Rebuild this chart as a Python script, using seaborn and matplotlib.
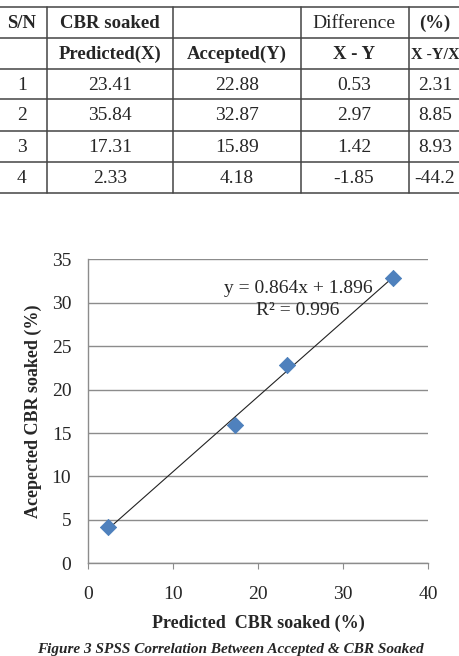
import numpy as np
import pandas as pd
import matplotlib
matplotlib.use("Agg")
import matplotlib.pyplot as plt
import seaborn as sns

# table / chart data
sn = ["1", "2", "3", "4"]
predicted = [23.41, 35.84, 17.31, 2.33]
accepted = [22.88, 32.87, 15.89, 4.18]
difference = ["0.53", "2.97", "1.42", "-1.85"]
percent = ["2.31", "8.85", "8.93", "-44.2"]
header1 = ["S/N", "CBR soaked", "", "Difference", "(%)"]
header2 = ["", "Predicted(X)", "Accepted(Y)", "X - Y", "X -Y/X"]
eq_text = "y = 0.864x + 1.896"
r2_text = "R\u00b2 = 0.996"
caption = "Figure 3 SPSS Correlation Between Accepted & CBR Soaked"

sns.set_style("white")
plt.rcParams['font.family'] = ['Liberation Serif', 'DejaVu Serif']

W, H = 460, 656
fig = plt.figure(figsize=(W/100, H/100), dpi=100)

# ---- table drawn in pixel coords ----
tab = fig.add_axes([0, 1 - 200/H, 1, 200/H])
tab.set_xlim(0, W)
tab.set_ylim(200, 0)
tab.axis("off")
row_lines = [7.3, 38.3, 69, 99.3, 130.7, 161.7, 192.7]
col_lines = [46.7, 173.3, 300.7, 409.3]
col_centers = [22, 110, 237, 354, 435]
for y in row_lines:
    tab.plot([0, W], [y, y], color="#444444", lw=1.1, clip_on=False)
for x in col_lines:
    tab.plot([x, x], [row_lines[0], row_lines[-1]], color="#444444", lw=1.1)

bold1 = [True, True, False, False, True]
rows = [header1, header2] + [[sn[i], f"{predicted[i]:.2f}", f"{accepted[i]:.2f}",
                             difference[i], percent[i]] for i in range(4)]
for r, row in enumerate(rows):
    yc = (row_lines[r] + row_lines[r+1]) / 2
    for c, txt in enumerate(row):
        if r == 0:
            fw = "bold" if bold1[c] else "normal"
            fs = 13.5 if bold1[c] else 14
        elif r == 1:
            fw, fs = "bold", 13.5
            if c == 4:
                fs = 11.5
        else:
            fw, fs = "normal", 14
        tab.text(col_centers[c], yc + 1, txt, ha="center", va="center",
                 fontsize=fs, fontweight=fw)

# ---- scatter chart ----
ax = fig.add_axes([88/W, 1 - 563.3/H, 340/W, 304/H])
df = pd.DataFrame({"Predicted": predicted, "Accepted": accepted})
sns.regplot(data=df, x="Predicted", y="Accepted", ax=ax, scatter=False, ci=None,
            line_kws=dict(color="#222222", lw=0.8))
sns.scatterplot(data=df, x="Predicted", y="Accepted", ax=ax, marker="D", s=68,
                color="#4F81BD", edgecolor="#4A7EBB", linewidth=0.6, zorder=3)
ax.set_xlim(0, 40)
ax.set_ylim(0, 35)
ax.set_xticks(range(0, 41, 10))
ax.set_yticks(range(0, 36, 5))
ax.grid(axis="y", color="#8C8C8C", lw=1)
ax.set_axisbelow(True)
for s in ["top", "right"]:
    ax.spines[s].set_visible(False)
for s in ["left", "bottom"]:
    ax.spines[s].set_color("#8C8C8C")
    ax.spines[s].set_linewidth(1)
ax.tick_params(axis="x", length=4, color="#8C8C8C", direction="out", pad=12,
               labelsize=14, bottom=True)
ax.tick_params(axis="y", length=0, pad=12, labelsize=14)
ax.set_xlabel("Predicted  CBR soaked (%)", fontsize=13, fontweight="bold", labelpad=9)
ax.set_ylabel("Acepected CBR soaked (%)", fontsize=13, fontweight="bold", labelpad=7)
ax.text(0.618, 0.905, eq_text, transform=ax.transAxes, ha="center", va="center", fontsize=14)
ax.text(0.618, 0.833, r2_text, transform=ax.transAxes, ha="center", va="center", fontsize=14)

fig.text(0.5, 1 - 643/H, caption, ha="center", va="top", fontsize=11,
         fontweight="bold", fontstyle="italic")

fig.savefig("out.png", dpi=100)
